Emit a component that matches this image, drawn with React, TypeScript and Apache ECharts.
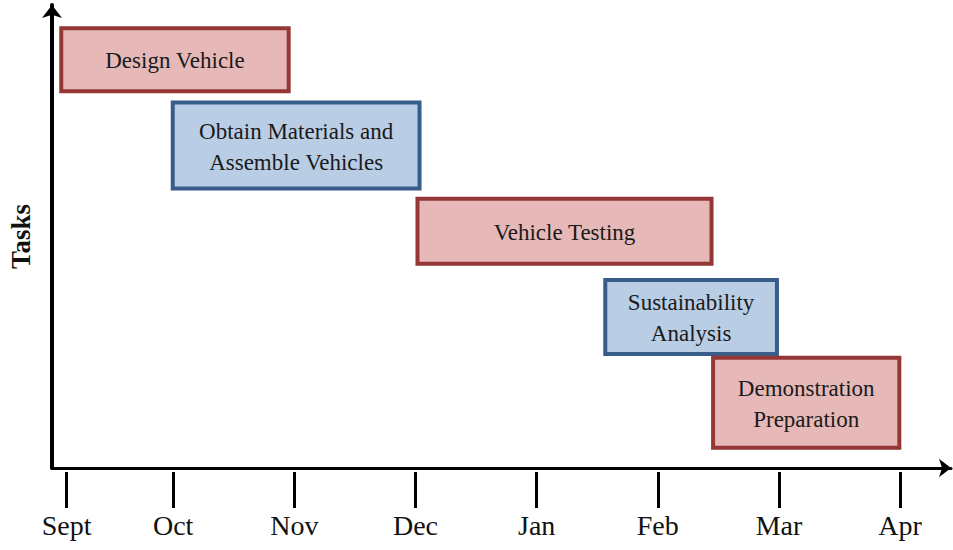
import React, { useEffect, useRef } from "react";
import * as echarts from "echarts";

// ---- data ----
const TASKS: string[] = [
  "Design Vehicle",
  "Obtain Materials and\nAssemble Vehicles",
  "Vehicle Testing",
  "Sustainability\nAnalysis",
  "Demonstration\nPreparation",
];
// start / end in months (Oct = 1, Nov = 2, ... Apr = 7)
const TASK_START: number[] = [0.06, 0.98, 3.0, 4.55, 5.44];
const TASK_END: number[] = [1.97, 3.05, 5.46, 6.0, 7.01];

const MONTH_LABELS: string[] = ["Sept", "Oct", "Nov", "Dec", "Jan", "Feb", "Mar", "Apr"];
const MONTH_TICKS: number[] = [0.12, 1, 2, 3, 4, 5, 6, 7];

// ---- styles ----
const BOX_HEIGHTS = [67, 90, 69, 78, 94];
const RED = { fill: "#E6B9B8", stroke: "#953735" };
const BLUE = { fill: "#B9CDE5", stroke: "#385D8A" };
const BOX_STYLES = [RED, BLUE, RED, BLUE, RED];
const SERIF = "'Liberation Serif', 'Times New Roman', serif";

export default function App() {
  const ref = useRef<HTMLDivElement>(null);

  useEffect(() => {
    if (!ref.current) return;
    const chart = echarts.init(ref.current, null, { renderer: "svg" });

    const data = TASKS.map((_, i) => [i, TASK_START[i], TASK_END[i]]);
    const lw = 4;

    const option: any = {
      animation: false,
      backgroundColor: "#ffffff",
      grid: {
        left: 52,
        right: 2,
        top: 5,
        bottom: 82,
        containLabel: false,
        outerBoundsMode: "none",
      },
      xAxis: [
        {
          type: "value",
          min: 0,
          max: 7.42,
          position: "bottom",
          axisLine: {
            show: true,
            onZero: false,
            lineStyle: { color: "#000", width: 3 },
            symbol: ["none", "arrow"],
            symbolSize: [14, 12],
          },
          axisTick: { show: false },
          axisLabel: { show: false },
          splitLine: { show: false },
        },
        {
          type: "value",
          min: 0,
          max: 7.42,
          position: "bottom",
          offset: 4,
          axisLine: { show: false, onZero: false },
          axisTick: {
            show: true,
            length: 36,
            lineStyle: { color: "#000", width: 3 },
            customValues: MONTH_TICKS,
          },
          axisLabel: {
            show: true,
            margin: 39,
            customValues: MONTH_TICKS,
            color: "#111",
            fontFamily: SERIF,
            fontSize: 28,
            formatter: (v: number) => {
              const idx = MONTH_TICKS.findIndex((t) => Math.abs(t - v) < 1e-6);
              return idx >= 0 ? MONTH_LABELS[idx] : "";
            },
          },
          splitLine: { show: false },
        },
      ],
      yAxis: {
        type: "value",
        inverse: true,
        min: -0.639,
        max: 4.76,
        name: "Tasks",
        nameLocation: "middle",
        nameRotate: 90,
        nameGap: 18,
        nameTextStyle: {
          fontFamily: SERIF,
          fontSize: 27,
          fontWeight: "bold",
          color: "#111",
        },
        axisLine: {
          show: true,
          onZero: false,
          lineStyle: { color: "#000", width: 4 },
          symbol: ["none", "arrow"],
          symbolSize: [15, 13],
        },
        axisTick: { show: false },
        axisLabel: { show: false },
        splitLine: { show: false },
      },
      series: [
        {
          type: "custom",
          xAxisIndex: 0,
          yAxisIndex: 0,
          encode: { x: [1, 2], y: 0 },
          data,
          renderItem: (params: any, api: any) => {
            const idx = params.dataIndex;
            const i = api.value(0);
            const p1 = api.coord([api.value(1), i]);
            const p2 = api.coord([api.value(2), i]);
            const h = BOX_HEIGHTS[idx];
            const st = BOX_STYLES[idx];
            return {
              type: "group",
              children: [
                {
                  type: "rect",
                  shape: {
                    x: p1[0] + lw / 2,
                    y: p1[1] - h / 2 + lw / 2,
                    width: p2[0] - p1[0] - lw,
                    height: h - lw,
                  },
                  style: { fill: st.fill, stroke: st.stroke, lineWidth: lw },
                },
                {
                  type: "text",
                  style: {
                    text: TASKS[idx],
                    x: (p1[0] + p2[0]) / 2,
                    y: p1[1] + 1,
                    align: "center",
                    verticalAlign: "middle",
                    fontFamily: SERIF,
                    fontSize: 23,
                    lineHeight: 31,
                    fill: "#1a1a1a",
                  },
                },
              ],
            };
          },
        },
      ],
    };

    chart.setOption(option);
    return () => chart.dispose();
  }, []);

  return (
    <div
      ref={ref}
      style={{ position: "fixed", left: 0, top: 0, width: 953, height: 550 }}
    />
  );
}
